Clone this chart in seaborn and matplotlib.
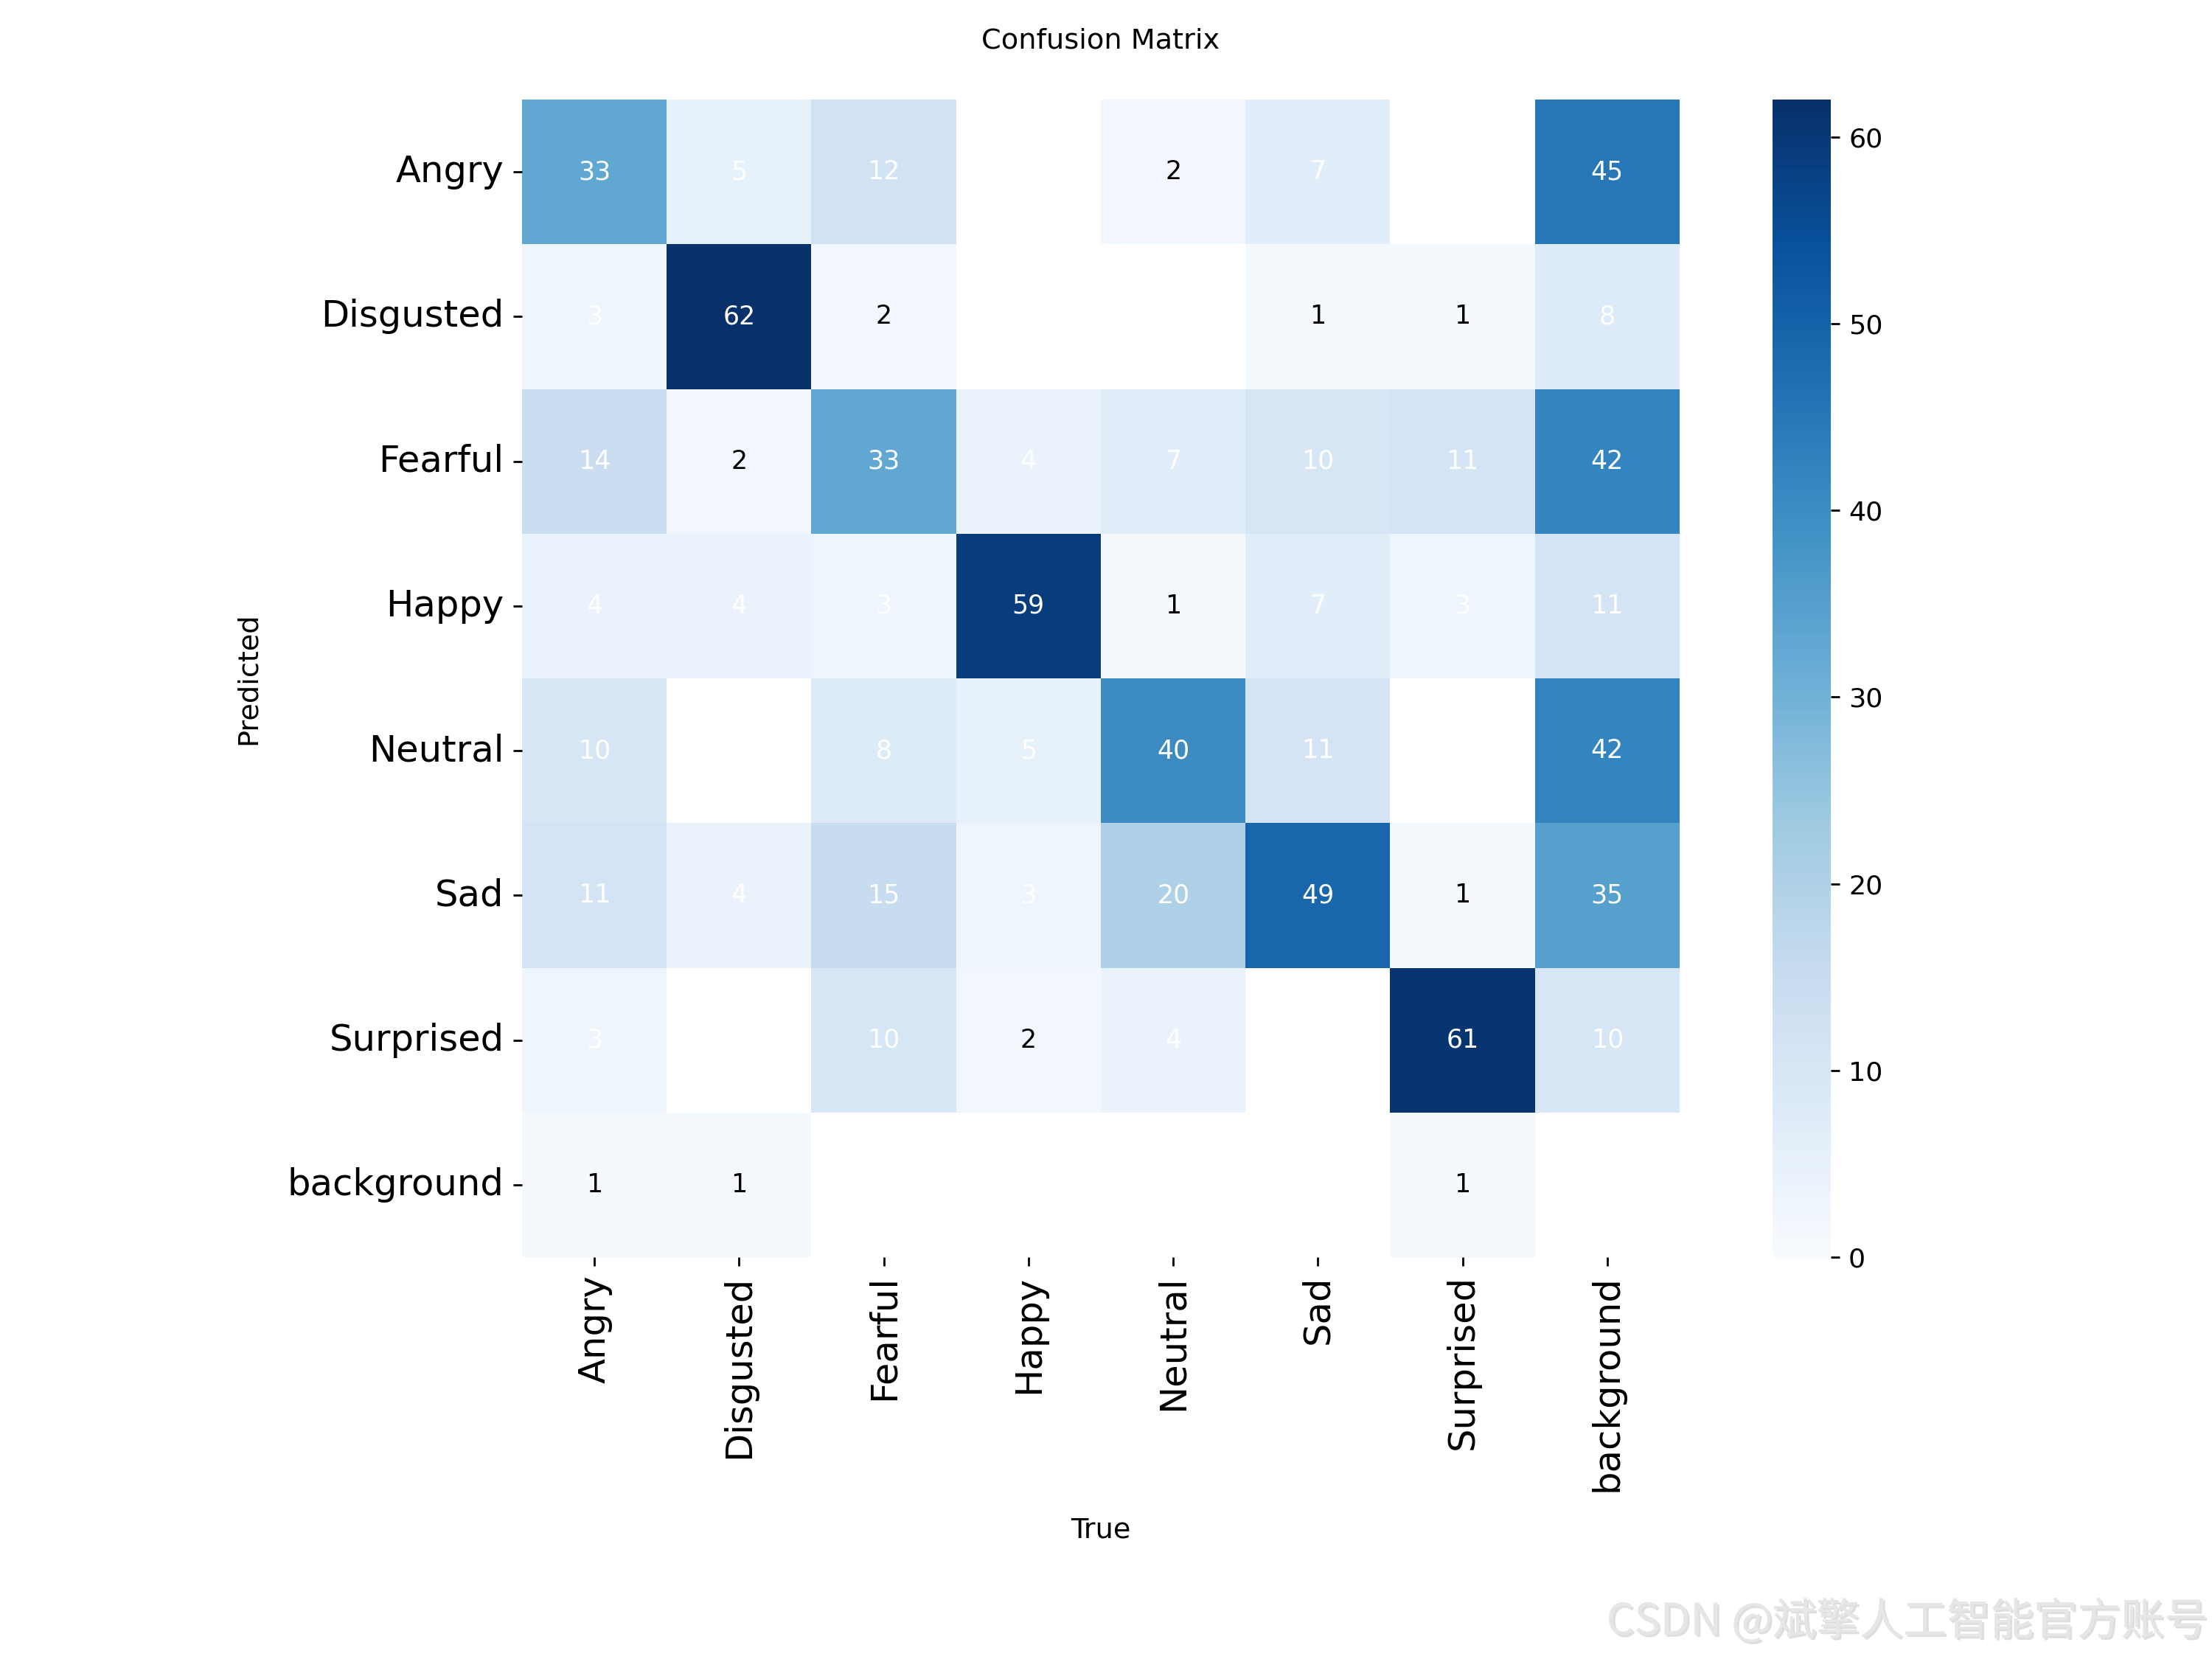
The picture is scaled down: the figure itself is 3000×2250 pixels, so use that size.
import numpy as np
import pandas as pd
import seaborn as sns
import matplotlib.pyplot as plt
from matplotlib import patheffects

# class names (rows = predicted, columns = true)
classes = ['Angry', 'Disgusted', 'Fearful', 'Happy', 'Neutral', 'Sad', 'Surprised', 'background']

nan = np.nan
row_angry = [33, 5, 12, nan, 2, 7, nan, 45]
row_disgusted = [3, 62, 2, nan, nan, 1, 1, 8]
row_fearful = [14, 2, 33, 4, 7, 10, 11, 42]
row_happy = [4, 4, 3, 59, 1, 7, 3, 11]
row_neutral = [10, nan, 8, 5, 40, 11, nan, 42]
row_sad = [11, 4, 15, 3, 20, 49, 1, 35]
row_surprised = [3, nan, 10, 2, 4, nan, 61, 10]
row_background = [1, 1, nan, nan, nan, nan, 1, nan]

matrix = pd.DataFrame(
    [row_angry, row_disgusted, row_fearful, row_happy,
     row_neutral, row_sad, row_surprised, row_background],
    index=classes, columns=classes)

fig = plt.figure(figsize=(12, 9))
ax = fig.add_axes([0.236, 0.2422, 0.5233, 0.6978])
cax = fig.add_axes([0.8013, 0.2422, 0.0263, 0.6978])

sns.heatmap(matrix, ax=ax, cbar_ax=cax, cmap='Blues', vmin=0.0,
            annot=True, fmt='.0f', annot_kws={'size': 10},
            square=False, xticklabels=classes, yticklabels=classes)
ax.set_facecolor((1, 1, 1))

# cell text colour as in the original: small counts dark, the rest white
for t in ax.texts:
    t.set_color('black' if float(t.get_text()) <= 2 else 'white')

ax.set_title('Confusion Matrix', fontsize=11, pad=20)
ax.set_xlabel('True', fontsize=11, labelpad=10)
ax.set_ylabel('Predicted', fontsize=11, labelpad=10)
ax.set_xticklabels(classes, fontsize=14.3, rotation=90)
ax.set_yticklabels(classes, fontsize=14.3, rotation=0)
ax.tick_params(axis='both', length=3.5, width=0.8)
cax.tick_params(labelsize=10.5)

fig.text(0.998, 0.022, 'CSDN @斌擎人工智能官方账号', ha='right', va='center',
         fontsize=17, color='#e6e6e6', family=['Noto Sans CJK SC', 'DejaVu Sans'],
         weight='light',
         path_effects=[patheffects.withSimplePatchShadow(offset=(0.8, -0.8), shadow_rgbFace='#c8c8c8', alpha=0.6),
                       patheffects.Normal()])

fig.savefig('out.png', dpi=250)
